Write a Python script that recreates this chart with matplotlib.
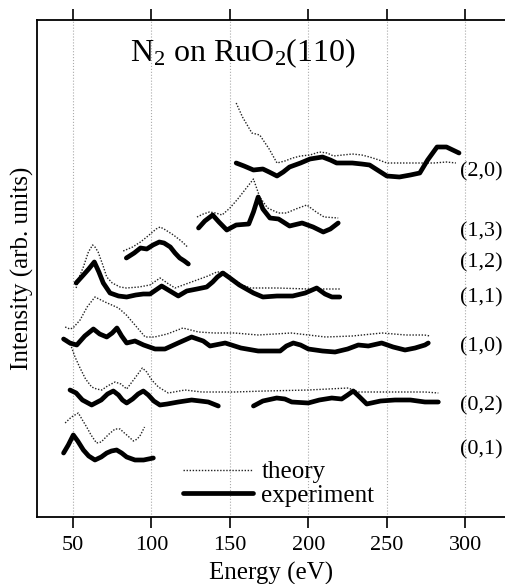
import numpy as np
import matplotlib
matplotlib.use("Agg")
import matplotlib.pyplot as plt

plt.rcParams['font.family'] = ['Liberation Serif', 'DejaVu Serif']
plt.rcParams['mathtext.fontset'] = 'custom'
plt.rcParams['mathtext.rm'] = 'Liberation Serif'
plt.rcParams['mathtext.it'] = 'Liberation Serif:italic'

# LEED I-V curves, energy in eV, intensity in arb. units (already offset)
beams = ["(2,0)", "(1,3)", "(1,2)", "(1,1)", "(1,0)", "(0,2)", "(0,1)"]

e_20_th = [154, 158, 164, 169, 175, 180, 185, 190, 195, 201, 207, 212, 216, 222, 228, 234, 239, 245, 250, 260, 269, 280, 288, 294]
i_20_th = [414, 400, 384, 382, 368, 354, 356, 359, 361, 362, 365, 364, 361, 362, 363, 362, 360, 357, 354, 354, 354, 354, 355, 354]
e_20_ex = [154, 159, 165, 171, 175, 180, 184, 188, 195, 201, 205, 209, 214, 218, 223, 228, 234, 239, 245, 250, 258, 265, 271, 276, 282, 288, 292, 296]
i_20_ex = [354, 351, 347, 348, 345, 341, 345, 350, 354, 358, 359, 360, 357, 354, 354, 354, 353, 352, 346, 341, 340, 342, 344, 357, 370, 370, 367, 364]

e_13_th = [129, 133, 137, 141, 145, 150, 155, 160, 165, 169, 174, 181, 186, 192, 199, 205, 210, 219]
i_13_th = [300, 303, 305, 304, 302, 309, 318, 328, 338, 320, 309, 304, 304, 308, 312, 305, 300, 299]
e_13_ex = [130, 134, 139, 143, 148, 154, 162, 165, 168, 171, 175.5, 181, 188, 196, 203, 209.5, 214, 219]
i_13_ex = [289, 296, 302, 295, 287, 292, 293, 305, 320, 308, 299, 298, 291, 294, 290, 285, 288, 294]

e_12_th = [82, 88, 93, 97, 100, 103, 105.5, 108, 114, 119, 123]
i_12_th = [266, 270, 275, 280, 284, 288, 290, 288, 282, 276, 270]
e_12_ex = [84, 89, 93, 97, 101, 105, 108, 112, 115, 118, 121, 123.5]
i_12_ex = [259, 264, 269, 268, 272, 275, 274, 270, 264, 259, 256, 253]

e_11_th = [52, 54, 56.6, 59.8, 62.5, 64, 66, 69, 71.5, 75, 80, 84, 92, 99, 105.5, 110, 115, 122, 129, 136, 141.6, 146, 152, 158, 163, 180, 200, 220]
i_11_th = [229, 240, 250, 265, 272, 270, 265, 252, 240, 234, 230, 229, 230, 232, 239, 234, 229, 233, 237, 241, 245, 245, 238, 232, 229, 229, 228, 228]
e_11_ex = [52, 56.6, 60, 63.6, 66.5, 69.3, 73.6, 79, 84.2, 90, 94.8, 99.1, 106.5, 111.8, 117.1, 122.5, 129, 135.2, 139, 142, 145.5, 150, 156, 165, 171, 180, 190, 198, 205.3, 210.6, 215, 220]
i_11_ex = [234, 242, 248, 255, 245, 234, 224, 221, 220, 222, 223, 223, 231, 226, 221, 226, 228, 230, 235, 240, 244, 239, 232, 224, 220, 221, 221, 224, 229, 223, 220, 220]

e_10_th = [45, 48, 50, 54.5, 59, 64, 70.4, 79, 84, 89.5, 96, 102, 110, 120, 130, 140, 147, 153, 168, 189, 200, 211, 228, 247, 262, 274, 277.5]
i_10_th = [190, 188, 189, 197, 210, 220, 215, 209, 202, 192, 180, 180, 183, 189, 185, 184, 184, 184, 182, 184, 182, 180, 181, 184, 182, 182, 181]
e_10_ex = [44, 48, 52.4, 57.5, 63, 67, 71.5, 75, 78, 81, 84.2, 89.5, 95, 102.3, 108.6, 117, 125.6, 133, 137.3, 147, 157, 168, 178, 182, 186, 190.4, 195, 200, 209, 217, 225, 231.8, 238.2, 246.7, 254, 261.6, 268, 274.3, 276.4]
i_10_ex = [178, 174, 172, 181, 188, 183, 180, 184, 189, 181, 174, 176, 172, 168, 168, 174, 180, 176, 171, 174, 169, 166, 166, 166, 171, 174, 172, 168, 166, 165, 168, 172, 171, 174, 170, 167, 169, 172, 174]

e_02_th = [46, 49, 51.3, 54.5, 58, 61.9, 65, 68.3, 72, 76.8, 80.5, 84.2, 89.5, 94.2, 97, 100.2, 104.4, 110.7, 121.4, 132, 153, 172.4, 200, 225.4, 231.8, 250, 274.3, 282.8]
i_02_th = [178, 170, 160, 149, 138, 130, 128, 127, 131, 135, 133, 128, 139, 149, 145, 137, 130, 124, 127, 125, 125, 126, 127, 129, 125, 125, 125, 124]
# experiment for (0,2) has a gap between ~143 and ~165 eV
e_02_ex_a = [48.1, 52, 56, 61.9, 68, 72, 75.7, 79, 81.5, 84.2, 88, 91.5, 94.8, 98, 101.5, 105.4, 110, 117.1, 125.6, 131, 136.2, 142.6]
i_02_ex_a = [127, 124, 117, 112, 117, 123, 126, 122, 117, 114, 118, 123, 126, 122, 116, 112, 113, 115, 117, 116, 115, 111]
e_02_ex_b = [165, 171, 179.8, 185, 189.4, 199.9, 207, 214.9, 221.2, 225, 228.6, 232, 237.2, 246, 255.2, 265, 274.3, 282.8]
i_02_ex_b = [111, 116, 119, 118, 115, 114, 117, 119, 118, 122, 126, 121, 113, 116, 117, 117, 115, 115]

e_01_th = [45, 47, 49, 53.4, 56, 58.7, 61.5, 65, 68, 70.4, 73, 76.8, 80, 82, 85, 88.5, 91, 93, 95.6]
i_01_th = [94, 97, 100, 104, 97, 90, 82, 74, 75, 79, 83, 88, 88, 85, 81, 76, 78, 82, 90]
e_01_ex = [44, 47, 50.2, 53, 56.6, 60, 64, 68, 71.5, 74.5, 77.8, 81, 84.2, 89.5, 95, 101.2]
i_01_ex = [64, 72, 82, 76, 67, 61, 57, 60, 64, 66, 67, 64, 60, 57, 57, 59]

theory = [(e_20_th, i_20_th), (e_13_th, i_13_th), (e_12_th, i_12_th), (e_11_th, i_11_th),
          (e_10_th, i_10_th), (e_02_th, i_02_th), (e_01_th, i_01_th)]
experiment = [(e_20_ex, i_20_ex), (e_13_ex, i_13_ex), (e_12_ex, i_12_ex), (e_11_ex, i_11_ex),
              (e_10_ex, i_10_ex), (e_02_ex_a, i_02_ex_a), (e_02_ex_b, i_02_ex_b), (e_01_ex, i_01_ex)]

# where the beam labels sit (intensity level)
label_y = [345, 285, 254, 219, 170, 111, 67]

fig = plt.figure(figsize=(5.05, 5.84), dpi=100)
ax = fig.add_axes([37 / 505, 67 / 584, 468 / 505, 497 / 584])

th_style = dict(color='#222222', lw=1.0, linestyle=(0, (1, 1.2)))
ex_style = dict(color='black', lw=3.4, solid_capstyle='round', solid_joinstyle='round')

for k, (e, i) in enumerate(theory):
    ax.plot(e, i, label='theory' if k == 0 else None, **th_style)
for k, (e, i) in enumerate(experiment):
    ax.plot(e, i, label='experiment' if k == 0 else None, **ex_style)

for name, y in zip(beams, label_y):
    ax.text(296.5, y, name, fontsize=16, va='center', ha='left')

ax.text(0.44, 0.934, r'N$_2$ on RuO$_2$(110)', transform=ax.transAxes,
        fontsize=23, ha='center', va='center')

ax.set_xlim(27.06, 325.3)
ax.set_ylim(0, 497)
ax.set_xticks([50, 100, 150, 200, 250, 300])
ax.set_yticks([])
ax.tick_params(axis='x', top=True, direction='out', length=8, width=1.2,
               labelsize=16, pad=6)
ax.grid(axis='x', color='#aaaaaa', linestyle=':', lw=0.8)
ax.spines['right'].set_visible(False)
for s in ['left', 'top', 'bottom']:
    ax.spines[s].set_linewidth(1.3)

ax.set_xlabel('Energy (eV)', fontsize=18, labelpad=5)
ax.set_ylabel('Intensity (arb. units)', fontsize=18, labelpad=2)

ax.legend(loc='lower left', bbox_to_anchor=(0.311, 0.02), frameon=False,
          fontsize=18, handlelength=2.8, handletextpad=0.35, labelspacing=0.05,
          borderpad=0, borderaxespad=0)

fig.savefig('out.png', dpi=100)
